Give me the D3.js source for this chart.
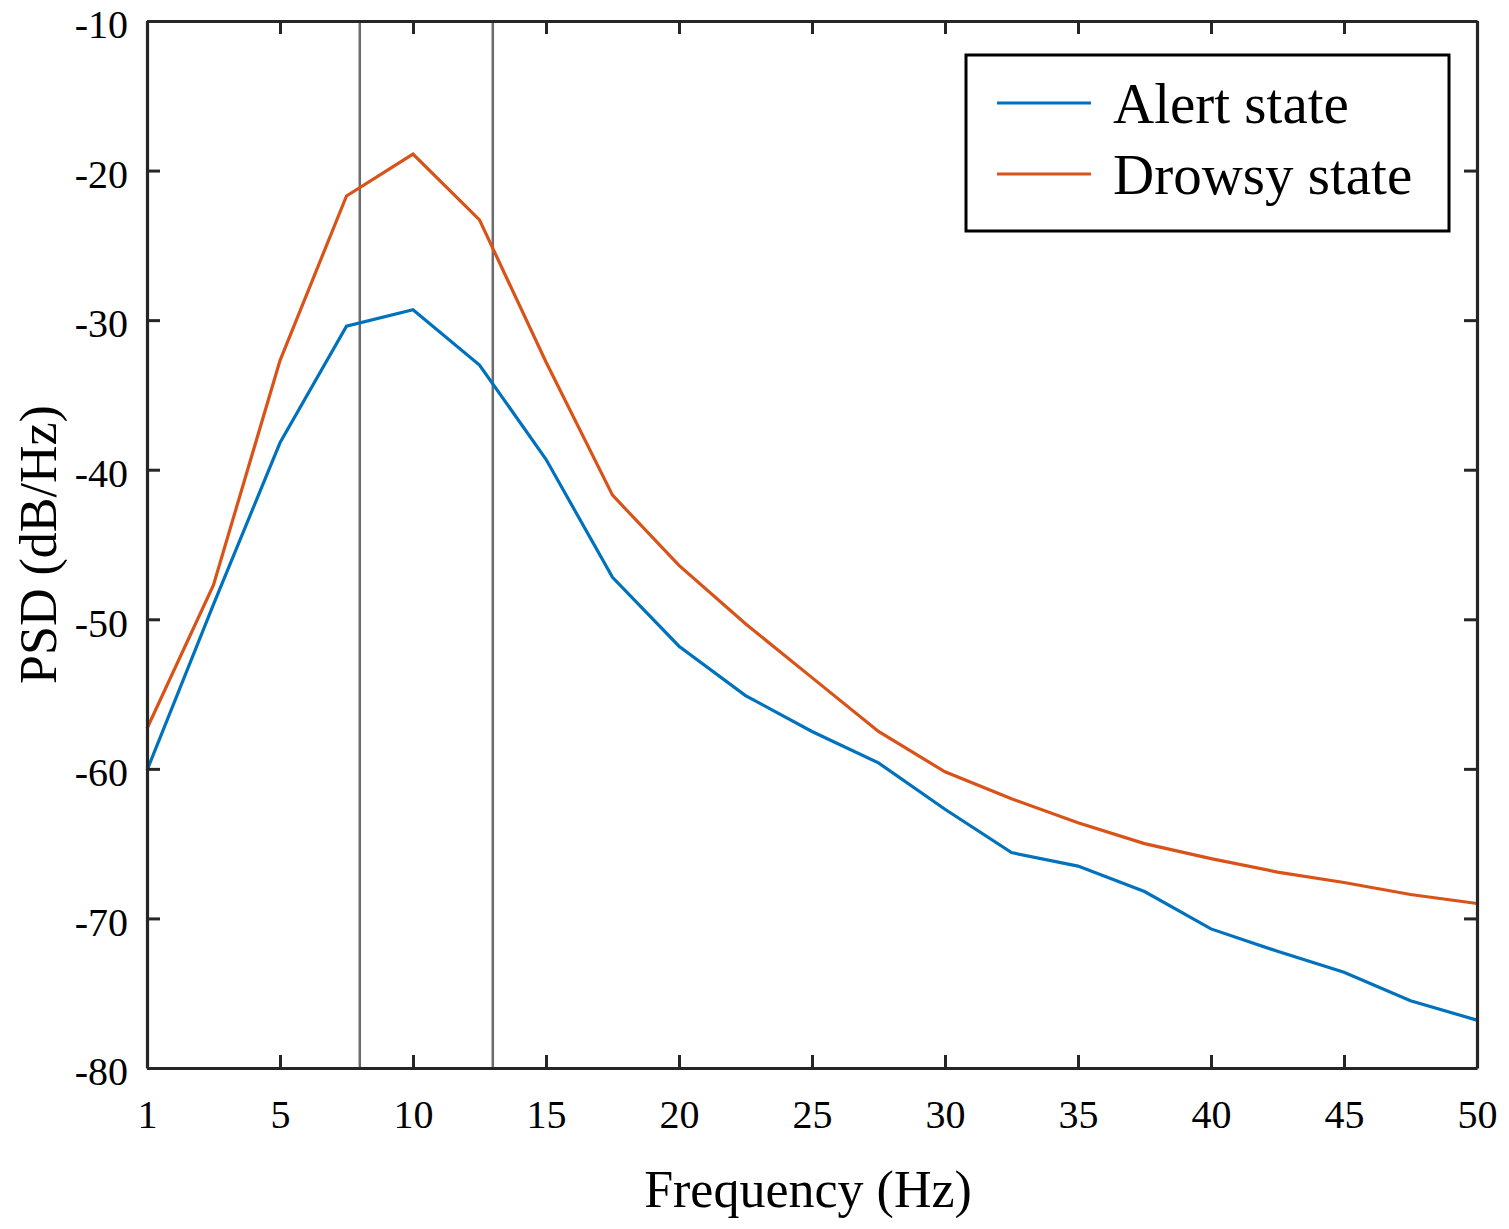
<!DOCTYPE html>
<html>
<head>
<meta charset="utf-8">
<script src="https://cdn.jsdelivr.net/npm/d3@7"></script>
<style>
  body { margin: 0; background: #fff; }
  text { font-family: "Liberation Serif", "Times New Roman", serif; fill: #000; }
</style>
</head>
<body>
<div id="chart"></div>
<script>
// PSD chart, alert vs drowsy

// data
const freqs = [0, 2.5, 5, 7.5, 10, 12.5, 15, 17.5, 20, 22.5, 25, 27.5, 30, 32.5, 35, 37.5, 40, 42.5, 45, 47.5, 50];
const alert = [-60.1, -49.0, -38.2, -30.4, -29.3, -33.0, -39.3, -47.2, -51.8, -55.1, -57.5, -59.6, -62.7, -65.6, -66.5, -68.2, -70.7, -72.2, -73.6, -75.5, -76.8];
const drowsy = [-57.3, -47.7, -32.7, -21.7, -18.9, -23.3, -32.8, -41.7, -46.4, -50.3, -53.9, -57.5, -60.2, -62.0, -63.6, -65.0, -66.0, -66.9, -67.6, -68.4, -69.0];
const seriesNames = ["Alert state", "Drowsy state"];
const xTicks = [0, 5, 10, 15, 20, 25, 30, 35, 40, 45, 50];
const xTickLabels = ["1", "5", "10", "15", "20", "25", "30", "35", "40", "45", "50"];
const yTicks = [-80, -70, -60, -50, -40, -30, -20, -10];
const bandLines = [8, 13];

const width = 1509;
const height = 1229;
const margin = {left: 147, right: 32, top: 21, bottom: 161};
const colors = ["#0072BD", "#D95319"];
const axisColor = "#262626";

const svg = d3.select("#chart")
  .append("svg")
  .attr("width", width)
  .attr("height", height);

const x = d3.scaleLinear()
  .domain([0, 50])
  .range([margin.left, width - margin.right]);

const y = d3.scaleLinear()
  .domain([-80, -10])
  .range([height - margin.bottom, margin.top]);

// alpha band markers
svg.selectAll(".band")
  .data(bandLines)
  .enter()
  .append("line")
    .attr("class", "band")
    .attr("x1", d => x(d))
    .attr("x2", d => x(d))
    .attr("y1", y(-10))
    .attr("y2", y(-80))
    .attr("stroke", "#6b6b6b")
    .attr("stroke-width", 2.5);

// the two curves
const line = d3.line()
  .x((d, i) => x(freqs[i]))
  .y(d => y(d));

[alert, drowsy].forEach((vals, k) => {
  svg.append("path")
    .datum(vals)
    .attr("fill", "none")
    .attr("stroke", colors[k])
    .attr("stroke-width", 3.2)
    .attr("stroke-linejoin", "miter")
    .attr("d", line);
});

// axes, ticks inside, mirrored on top/right
const tickLen = 13;
const xBottom = svg.append("g")
  .attr("transform", `translate(0,${y(-80)})`)
  .call(d3.axisBottom(x).tickValues(xTicks)
          .tickFormat((d, i) => xTickLabels[i])
          .tickSizeInner(-tickLen).tickSizeOuter(0).tickPadding(32));
const xTop = svg.append("g")
  .attr("transform", `translate(0,${y(-10)})`)
  .call(d3.axisTop(x).tickValues(xTicks).tickFormat("")
          .tickSizeInner(-tickLen).tickSizeOuter(0));
const yLeft = svg.append("g")
  .attr("transform", `translate(${x(0)},0)`)
  .call(d3.axisLeft(y).tickValues(yTicks)
          .tickSizeInner(-tickLen).tickSizeOuter(0).tickPadding(19));
const yRight = svg.append("g")
  .attr("transform", `translate(${x(50)},0)`)
  .call(d3.axisRight(y).tickValues(yTicks).tickFormat("")
          .tickSizeInner(-tickLen).tickSizeOuter(0));

[xBottom, xTop, yLeft, yRight].forEach(g => {
  g.select(".domain").attr("stroke", axisColor).attr("stroke-width", 3.2);
  g.selectAll(".tick line").attr("stroke", axisColor).attr("stroke-width", 3);
  g.selectAll(".tick text")
    .attr("font-family", "Liberation Serif")
    .attr("font-size", 40)
    .attr("fill", "#000");
});
// plain hyphen for negatives like the original, nudged down a bit
yLeft.selectAll(".tick text")
  .text(d => String(d))
  .attr("dy", "0.42em");

// axis titles
svg.append("text")
  .attr("x", 808)
  .attr("y", 1207)
  .attr("text-anchor", "middle")
  .attr("font-size", 52)
  .text("Frequency (Hz)");

svg.append("text")
  .attr("transform", `translate(56,${(y(-10) + y(-80)) / 2}) rotate(-90)`)
  .attr("text-anchor", "middle")
  .attr("font-size", 52)
  .text("PSD (dB/Hz)");

// legend
const legend = svg.append("g");
legend.append("rect")
  .attr("x", 966)
  .attr("y", 55)
  .attr("width", 483)
  .attr("height", 176)
  .attr("fill", "#fff")
  .attr("stroke", "#000")
  .attr("stroke-width", 3);

seriesNames.forEach((name, k) => {
  const ly = 103 + k * 71;
  legend.append("line")
    .attr("x1", 997).attr("x2", 1091)
    .attr("y1", ly).attr("y2", ly)
    .attr("stroke", colors[k])
    .attr("stroke-width", 3.2);
  legend.append("text")
    .attr("x", 1113)
    .attr("y", ly)
    .attr("dy", "0.35em")
    .attr("font-size", 57)
    .text(name);
});
</script>
</body>
</html>
